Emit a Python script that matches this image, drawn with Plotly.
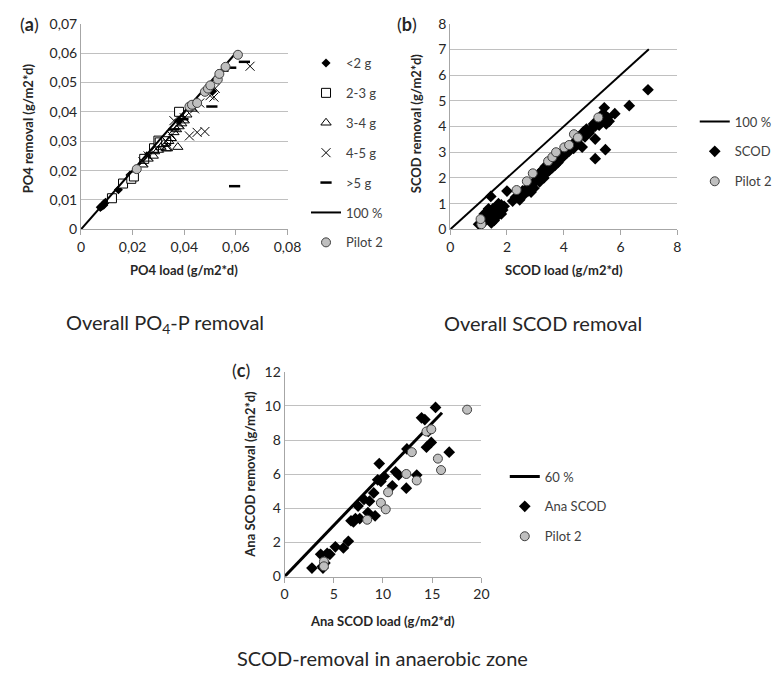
import plotly.graph_objects as go

W, H = 777, 685

# ---------------- Panel (a) data: PO4 load vs removal ----------------
a_lt2_x = [0.0075, 0.008, 0.0085, 0.009, 0.0095, 0.0088, 0.0145, 0.019, 0.0255, 0.031, 0.038, 0.051]
a_lt2_y = [0.0075, 0.0078, 0.0083, 0.0088, 0.0092, 0.0082, 0.0135, 0.0185, 0.025, 0.030, 0.037, 0.047]
a_23_x = [0.012, 0.0163, 0.0195, 0.0205, 0.0245, 0.0283, 0.030, 0.0305, 0.033, 0.038]
a_23_y = [0.0106, 0.0156, 0.0172, 0.018, 0.024, 0.0276, 0.0302, 0.0296, 0.030, 0.040]
a_34_x = [0.024, 0.026, 0.028, 0.0285, 0.030, 0.031, 0.032, 0.033, 0.0335, 0.034, 0.035, 0.036,
          0.037, 0.0375, 0.038, 0.039, 0.040, 0.041, 0.043]
a_34_y = [0.022, 0.024, 0.025, 0.0265, 0.027, 0.028, 0.029, 0.0275, 0.0275, 0.030, 0.031, 0.033,
          0.034, 0.028, 0.035, 0.036, 0.037, 0.039, 0.041]
a_45_x = [0.024, 0.026, 0.033, 0.035, 0.036, 0.038, 0.040, 0.042, 0.044, 0.045, 0.046, 0.048,
          0.050, 0.0515, 0.052, 0.0655]
a_45_y = [0.023, 0.025, 0.030, 0.032, 0.037, 0.036, 0.038, 0.0318, 0.041, 0.033, 0.043, 0.0333,
          0.0455, 0.045, 0.048, 0.0555]
a_gt5_x = [0.036, 0.0395, 0.0507, 0.055, 0.058, 0.0633, 0.0595]
a_gt5_y = [0.034, 0.0375, 0.0418, 0.054, 0.055, 0.057, 0.0147]
a_line_x = [0, 0.06]
a_line_y = [0, 0.06]
a_p2_x = [0.0216, 0.042, 0.043, 0.045, 0.048, 0.0492, 0.0501, 0.053, 0.0536, 0.056, 0.0608]
a_p2_y = [0.0205, 0.0418, 0.0424, 0.043, 0.0468, 0.0479, 0.049, 0.051, 0.0529, 0.0553, 0.0594]

# ---------------- Panel (b) data: SCOD load vs removal ----------------
b_line_x = [0, 7]
b_line_y = [0, 7]
b_scod_x = [1.1, 1.15, 1.2, 1.25, 1.3, 1.3, 1.35, 1.4, 1.4, 1.45, 1.5, 1.5, 1.55, 1.6, 1.6, 1.65,
            1.7, 1.75, 1.8, 1.8, 1.85, 1.9, 1.2, 1.35, 1.45, 1.55, 1.65, 1.0, 1.7, 1.43, 2.0,
            2.2, 2.3, 2.4, 2.45, 2.5, 2.55, 2.6, 2.7, 2.75, 2.8, 2.9, 2.95, 3.0, 3.05, 3.1, 3.15,
            3.2, 3.25, 3.3, 3.3, 3.35, 3.4, 3.45, 3.5, 3.5, 3.55, 3.6, 3.65, 3.7, 3.75, 3.8, 3.85,
            3.9, 3.95, 4.0, 4.05, 4.1, 4.15, 4.2, 4.3, 4.35, 4.4, 4.5, 4.55, 4.6, 4.65, 4.7, 4.75,
            4.8, 4.9, 5.0, 5.05, 5.1, 5.2, 5.25, 5.3, 5.35, 5.4, 5.45, 5.5, 5.55, 5.6, 5.43, 5.8,
            6.31, 6.97, 5.47, 5.11, 5.11, 3.15, 2.85]
b_scod_y = [0.25, 0.4, 0.3, 0.5, 0.45, 0.65, 0.55, 0.35, 0.7, 0.6, 0.5, 0.8, 0.65, 0.75, 0.45, 0.9,
            0.7, 0.85, 0.6, 0.95, 0.75, 0.9, 0.6, 0.8, 0.25, 0.35, 0.55, 0.2, 1.0, 1.28, 1.49,
            1.1, 1.25, 1.3, 1.15, 1.4, 1.5, 1.35, 1.6, 1.5, 1.7, 1.75, 1.6, 1.9, 2.05, 1.95, 2.2,
            2.1, 2.3, 2.0, 2.25, 2.45, 2.2, 2.4, 2.3, 2.55, 2.6, 2.4, 2.7, 2.5, 2.8, 2.6, 2.9,
            2.75, 3.0, 2.85, 3.1, 2.95, 3.2, 3.05, 3.3, 3.15, 3.4, 3.5, 3.3, 3.65, 3.2, 3.8, 3.6,
            3.9, 3.75, 3.95, 4.1, 4.0, 4.2, 4.05, 4.4, 4.2, 4.5, 4.3, 4.1, 4.35, 4.2, 4.73, 4.5,
            4.81, 5.43, 3.1, 2.75, 3.51, 1.85, 1.45]
b_p2_x = [1.1, 1.07, 2.34, 2.7, 2.91, 3.45, 3.6, 3.73, 4.02, 4.19, 4.36, 4.5, 5.22]
b_p2_y = [0.2, 0.4, 1.53, 1.87, 2.18, 2.65, 2.81, 3.0, 3.19, 3.28, 3.7, 3.57, 4.35]

# ---------------- Panel (c) data: anaerobic SCOD ----------------
c_line_x = [0, 16]
c_line_y = [0, 9.6]
c_ana_x = [2.78, 3.67, 3.84, 3.9, 4.1, 4.33, 4.6, 5.16, 5.98, 6.48, 6.75, 7.0, 7.2, 7.64, 7.47,
           8.07, 8.47, 8.63, 9.06, 9.2, 9.46, 9.62, 9.79, 10.12, 10.95, 11.28, 11.6, 12.37, 12.43,
           13.43, 13.92, 14.25, 14.42, 14.91, 15.34, 16.73, 14.6]
c_ana_y = [0.5, 1.3, 0.59, 0.5, 0.8, 1.36, 1.3, 1.74, 1.68, 2.07, 3.27, 3.2, 3.4, 3.4, 4.13,
           4.52, 3.75, 4.42, 4.9, 3.56, 5.67, 6.62, 5.57, 5.86, 5.32, 6.14, 5.95, 5.18, 7.48,
           5.95, 9.3, 9.2, 7.58, 7.86, 9.91, 7.29, 8.5]
c_p2_x = [4.0, 4.0, 8.4, 9.79, 10.28, 10.52, 12.37, 12.93, 13.43, 14.42, 14.91, 15.58, 15.9, 18.55]
c_p2_y = [0.88, 0.6, 3.33, 4.32, 3.94, 4.94, 6.01, 7.29, 5.63, 8.5, 8.63, 6.91, 6.24, 9.78]

FONT = "Lato"
TXT = "#262626"
GRID = "#c0c0c0"
P2_FILL = "#bfbfbf"
P2_EDGE = "#404040"


def px(x):
    return x / W


def py(y):
    return 1 - y / H


fig = go.Figure()


def scatter(x, y, name, xa, ya, legend, symbol, size, color="black", line_color="black",
            line_width=1):
    fig.add_trace(go.Scatter(
        x=x, y=y, mode="markers", name=name, xaxis=xa, yaxis=ya, legend=legend,
        legendgroup=legend + name,
        marker=dict(symbol=symbol, size=size, color=color,
                    line=dict(color=line_color, width=line_width)),
        cliponaxis=False))


def line(x, y, name, xa, ya, legend, width):
    fig.add_trace(go.Scatter(
        x=x, y=y, mode="lines", name=name, xaxis=xa, yaxis=ya, legend=legend,
        legendgroup=legend + name, line=dict(color="black", width=width)))


# Panel (a)
scatter(a_lt2_x, a_lt2_y, "<2 g", "x", "y", "legend", "diamond", 7, "black", "black", 0)
scatter(a_23_x, a_23_y, "2-3 g", "x", "y", "legend", "square", 9, "white", "black", 1)
scatter(a_34_x, a_34_y, "3-4 g", "x", "y", "legend", "triangle-up-open", 9, "black", "black", 1)
scatter(a_45_x, a_45_y, "4-5 g", "x", "y", "legend", "x-thin-open", 9, "black", "black", 1)
scatter(a_gt5_x, a_gt5_y, ">5 g", "x", "y", "legend", "line-ew-open", 8, "black", "black", 2.5)
line(a_line_x, a_line_y, "100 %", "x", "y", "legend", 2)
scatter(a_p2_x, a_p2_y, "Pilot 2", "x", "y", "legend", "circle", 9, P2_FILL, P2_EDGE, 1)

# Panel (b)
line(b_line_x, b_line_y, "100 %", "x2", "y2", "legend2", 2)
scatter(b_scod_x, b_scod_y, "SCOD", "x2", "y2", "legend2", "diamond", 9, "black", "black", 0)
scatter(b_p2_x, b_p2_y, "Pilot 2", "x2", "y2", "legend2", "circle", 9, P2_FILL, P2_EDGE, 1)

# Panel (c)
line(c_line_x, c_line_y, "60 %", "x3", "y3", "legend3", 3)
scatter(c_ana_x, c_ana_y, "Ana SCOD", "x3", "y3", "legend3", "diamond", 9, "black", "black", 0)
scatter(c_p2_x, c_p2_y, "Pilot 2", "x3", "y3", "legend3", "circle", 9, P2_FILL, P2_EDGE, 1)

tickfont = dict(family=FONT, size=14, color=TXT)


def xax(domain, rng, dtick):
    return dict(domain=domain, range=rng, dtick=dtick, showgrid=False, zeroline=False,
                showline=True, linecolor="#a6a6a6", linewidth=1, ticks="outside",
                ticklen=5, tickcolor="#a6a6a6", tickfont=tickfont, fixedrange=True)


def yax(domain, rng, dtick, anchor):
    return dict(domain=domain, range=rng, dtick=dtick, showgrid=True, gridcolor=GRID,
                gridwidth=1, zeroline=False, showline=True, linecolor="#a6a6a6",
                linewidth=1, ticks="", tickfont=tickfont, anchor=anchor, fixedrange=True)


ya_dom = [py(226), py(15)]
yc_dom = [py(582), py(372)]

legend_common = dict(font=dict(family=FONT, size=13, color="#404040"), bgcolor="rgba(0,0,0,0)",
                     xanchor="left", yanchor="top", tracegroupgap=10, itemsizing="trace")

fig.update_layout(
    width=W, height=H, margin=dict(l=0, r=0, t=0, b=0),
    paper_bgcolor="white", plot_bgcolor="white",
    separators=", ",
    font=dict(family=FONT, color=TXT),
    xaxis=dict(**xax([px(79), px(291)], [0, 0.08], 0.02), anchor="y"),
    yaxis=yax(ya_dom, [0, 0.07], 0.01, "x"),
    xaxis2=dict(**xax([px(458), px(691)], [0, 8], 2), anchor="y2"),
    yaxis2=yax(ya_dom, [0, 8], 1, "x2"),
    xaxis3=dict(**xax([px(288), px(490)], [0, 20], 5), anchor="y3"),
    yaxis3=yax(yc_dom, [0, 12], 2, "x3"),
    legend=dict(x=px(310), y=py(40), **legend_common),
    legend2=dict(x=px(709), y=py(100), **legend_common),
    legend3=dict(x=px(514), y=py(464), **legend_common),
)

ann_title = dict(family=FONT, size=13, color=TXT)
annotations = [
    # axis titles
    dict(text="<b>PO4 removal (g/m2*d)</b>", x=px(25), y=py(122), textangle=-90, font=ann_title),
    dict(text="<b>PO4 load (g/m2*d)</b>", x=px(185), y=py(268), font=ann_title),
    dict(text="<b>SCOD removal (g/m2*d)</b>", x=px(423), y=py(117), textangle=-90, font=ann_title),
    dict(text="<b>SCOD load (g/m2*d)</b>", x=px(575), y=py(268), font=ann_title),
    dict(text="<b>Ana SCOD removal (g/m2*d)</b>", x=px(253), y=py(477), textangle=-90,
         font=ann_title),
    dict(text="<b>Ana SCOD load (g/m2*d)</b>", x=px(388), y=py(628), font=ann_title),
    # panel labels
    dict(text="(<b>a</b>)", x=px(26), y=py(15), font=dict(family=FONT, size=18, color=TXT)),
    dict(text="(<b>b</b>)", x=px(414), y=py(15), font=dict(family=FONT, size=18, color=TXT)),
    dict(text="(<b>c</b>)", x=px(243), y=py(370), font=dict(family=FONT, size=18, color=TXT)),
    # panel captions
    dict(text="Overall PO<sub>4</sub>-P removal", x=px(165), y=py(322),
         font=dict(family=FONT, size=20, color=TXT)),
    dict(text="Overall SCOD removal", x=px(553), y=py(322),
         font=dict(family=FONT, size=20, color=TXT)),
    dict(text="SCOD-removal in anaerobic zone", x=px(388), y=py(666),
         font=dict(family=FONT, size=20, color=TXT)),
]
for a in annotations:
    a.update(xref="paper", yref="paper", showarrow=False, xanchor="center", yanchor="middle")
fig.update_layout(annotations=annotations)

fig.write_html("out.html")
